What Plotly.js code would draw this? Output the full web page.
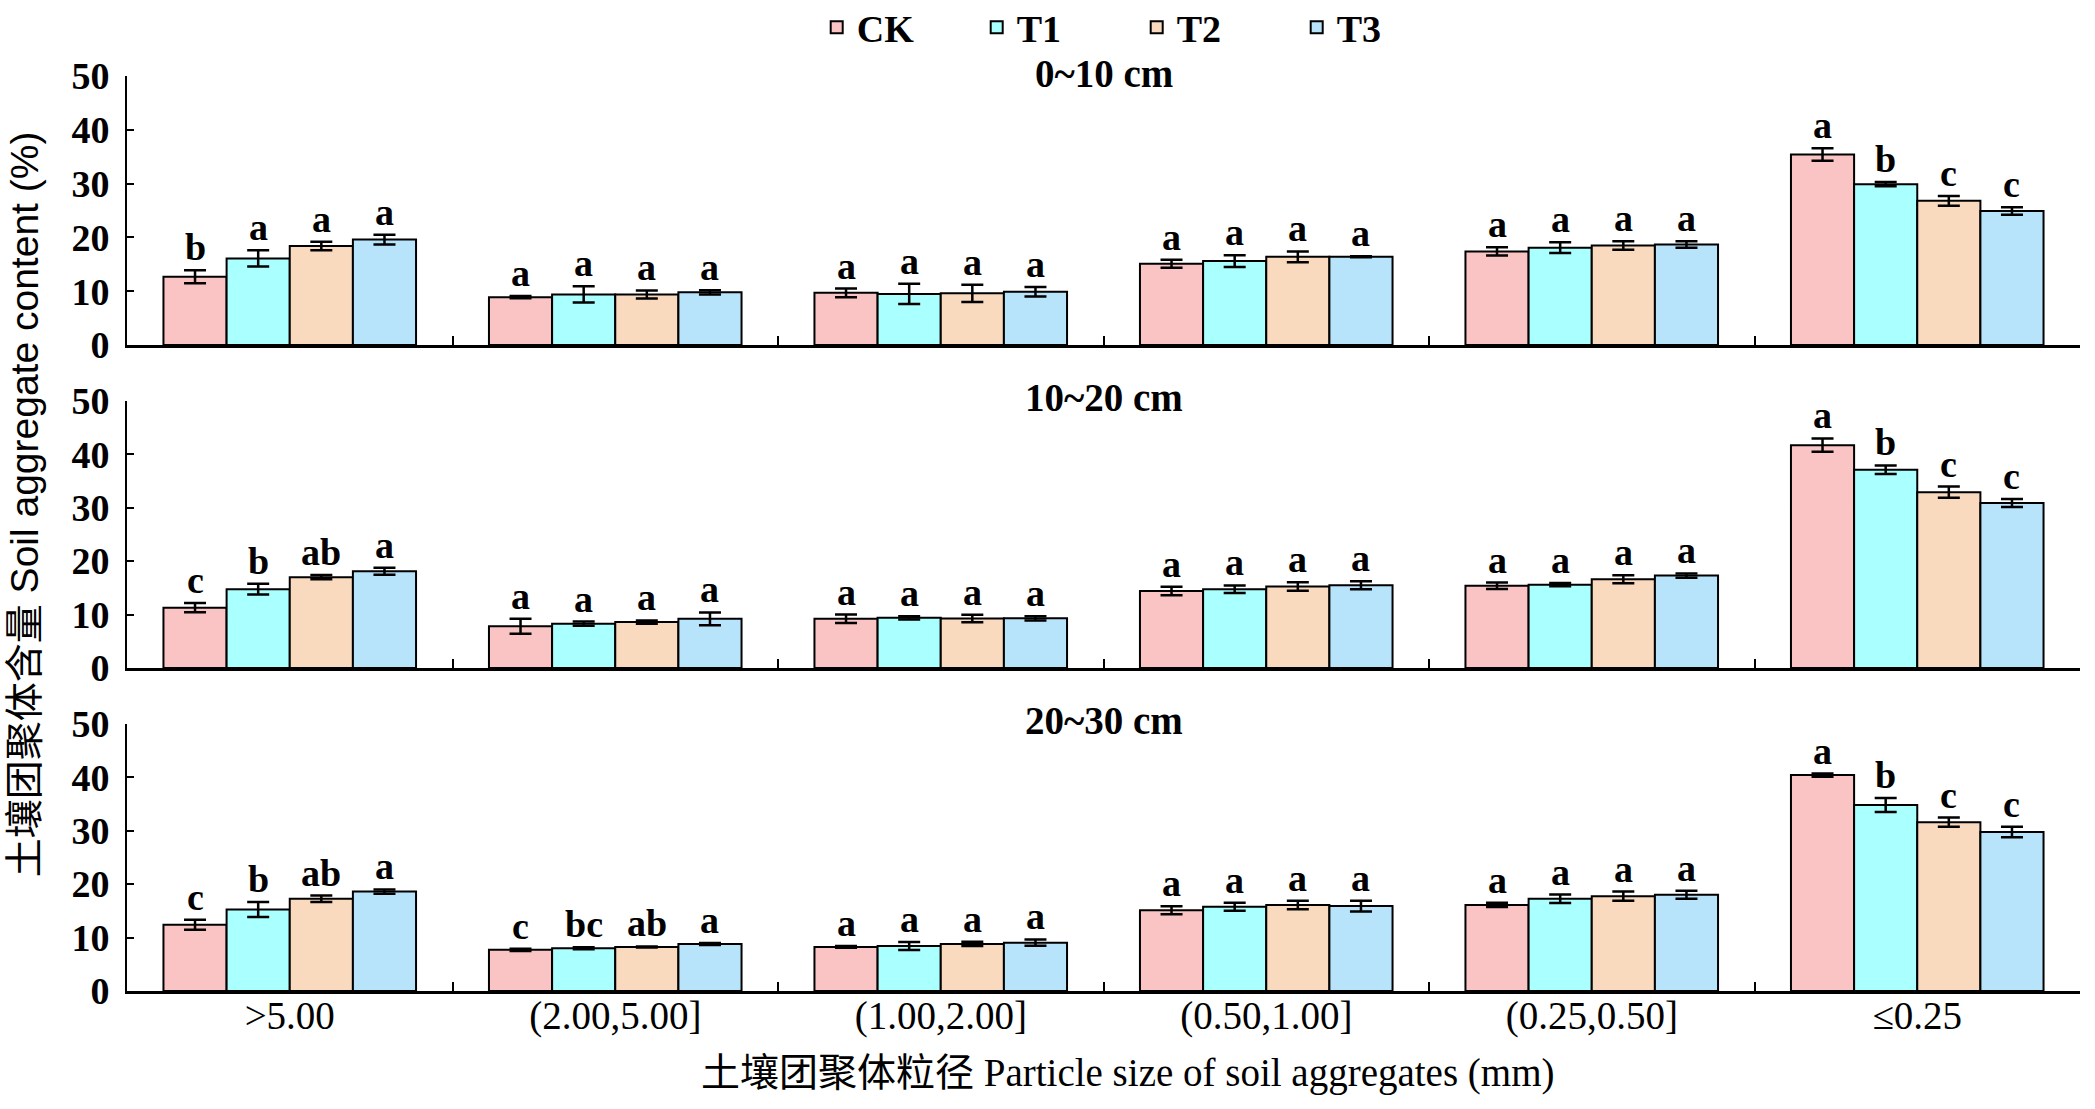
<!DOCTYPE html>
<html>
<head>
<meta charset="utf-8">
<script src="https://cdn.plot.ly/plotly-3.0.1.min.js"></script>
<style>html,body{margin:0;padding:0;background:#fff;}#chart{width:2095px;height:1109px;}</style>
</head>
<body>
<div id="chart"></div>
<script>
// ---------------- DATA ----------------
const categories = ['>5.00', '(2.00,5.00]', '(1.00,2.00]', '(0.50,1.00]', '(0.25,0.50]', '≤0.25'];
const seriesNames = ['CK', 'T1', 'T2', 'T3'];
const depthLabels = ['0~10 cm', '10~20 cm', '20~30 cm'];

// 0~10 cm
const d1_CK = [12.7, 8.9, 9.7, 15.1, 17.4, 35.4];
const d1_T1 = [16.1, 9.4, 9.5, 15.6, 18.1, 29.9];
const d1_T2 = [18.4, 9.4, 9.6, 16.4, 18.5, 26.8];
const d1_T3 = [19.6, 9.8, 9.9, 16.4, 18.7, 24.9];
const e1_CK = [1.2, 0.2, 0.8, 0.75, 0.75, 1.15];
const e1_T1 = [1.5, 1.5, 1.9, 1.1, 1.0, 0.4];
const e1_T2 = [0.8, 0.75, 1.6, 1.0, 0.8, 0.9];
const e1_T3 = [0.9, 0.4, 0.9, 0.1, 0.6, 0.7];
const l1_CK = ['b', 'a', 'a', 'a', 'a', 'a'];
const l1_T1 = ['a', 'a', 'a', 'a', 'a', 'b'];
const l1_T2 = ['a', 'a', 'a', 'a', 'a', 'c'];
const l1_T3 = ['a', 'a', 'a', 'a', 'a', 'c'];

// 10~20 cm
const d2_CK = [11.3, 7.8, 9.2, 14.4, 15.4, 41.7];
const d2_T1 = [14.75, 8.3, 9.4, 14.75, 15.6, 37.1];
const d2_T2 = [17.0, 8.6, 9.25, 15.25, 16.6, 32.9];
const d2_T3 = [18.1, 9.2, 9.3, 15.5, 17.3, 30.9];
const e2_CK = [0.85, 1.4, 0.8, 0.8, 0.6, 1.25];
const e2_T1 = [1.0, 0.4, 0.3, 0.7, 0.3, 0.8];
const e2_T2 = [0.4, 0.3, 0.7, 0.8, 0.75, 1.05];
const e2_T3 = [0.65, 1.2, 0.4, 0.75, 0.4, 0.75];
const l2_CK = ['c', 'a', 'a', 'a', 'a', 'a'];
const l2_T1 = ['b', 'a', 'a', 'a', 'a', 'b'];
const l2_T2 = ['ab', 'a', 'a', 'a', 'a', 'c'];
const l2_T3 = ['a', 'a', 'a', 'a', 'a', 'c'];

// 20~30 cm
const d3_CK = [12.4, 7.7, 8.25, 15.1, 16.1, 40.4];
const d3_T1 = [15.25, 8.0, 8.4, 15.75, 17.25, 34.8];
const d3_T2 = [17.25, 8.25, 8.8, 16.1, 17.75, 31.6];
const d3_T3 = [18.6, 8.8, 9.05, 15.9, 18.0, 29.75];
const e3_CK = [0.95, 0.2, 0.15, 0.75, 0.4, 0.3];
const e3_T1 = [1.4, 0.2, 0.75, 0.75, 0.8, 1.3];
const e3_T2 = [0.6, 0.1, 0.4, 0.8, 0.85, 0.85];
const e3_T3 = [0.4, 0.2, 0.6, 1.0, 0.75, 1.0];
const l3_CK = ['c', 'c', 'a', 'a', 'a', 'a'];
const l3_T1 = ['b', 'bc', 'a', 'a', 'a', 'b'];
const l3_T2 = ['ab', 'ab', 'a', 'a', 'a', 'c'];
const l3_T3 = ['a', 'a', 'a', 'a', 'a', 'c'];

const yTicks = [0, 10, 20, 30, 40, 50];
const xTitle = '土壤团聚体粒径 Particle size of soil aggregates (mm)';
const yTitle = '土壤团聚体含量 Soil aggregate content (%)';

// ---------------- BUILD ----------------
const panels = [
  {vals: [d1_CK, d1_T1, d1_T2, d1_T3], errs: [e1_CK, e1_T1, e1_T2, e1_T3], lets: [l1_CK, l1_T1, l1_T2, l1_T3]},
  {vals: [d2_CK, d2_T1, d2_T2, d2_T3], errs: [e2_CK, e2_T1, e2_T2, e2_T3], lets: [l2_CK, l2_T1, l2_T2, l2_T3]},
  {vals: [d3_CK, d3_T1, d3_T2, d3_T3], errs: [e3_CK, e3_T1, e3_T2, e3_T3], lets: [l3_CK, l3_T1, l3_T2, l3_T3]}
];
const colors = ['#FBC4C4', '#AAFFFF', '#F9DABE', '#B7E3FB'];
const SERIF = '"Liberation Serif", "Times New Roman", "Noto Sans CJK SC", serif';
const SANS = '"Liberation Sans", Arial, "Noto Sans CJK SC", sans-serif';
const BARGAP = 0.224;

const traces = [];
const annotations = [];
panels.forEach((p, pi) => {
  const xa = pi === 0 ? 'x' : 'x' + (pi + 1);
  const ya = pi === 0 ? 'y' : 'y' + (pi + 1);
  p.vals.forEach((v, si) => {
    traces.push({
      type: 'bar', x: categories, y: v, xaxis: xa, yaxis: ya,
      name: seriesNames[si], legendgroup: seriesNames[si], showlegend: pi === 0,
      marker: {color: colors[si], line: {color: '#000', width: 2}},
      error_y: {type: 'data', array: p.errs[si], visible: true, color: '#000', thickness: 2.5, width: 11},
      hoverinfo: 'skip'
    });
    const w = (1 - BARGAP) / p.vals.length;
    v.forEach((val, ci) => {
      annotations.push({
        xref: xa, yref: ya,
        x: ci + (si - (p.vals.length - 1) / 2) * w,
        y: val + p.errs[si][ci],
        text: p.lets[si][ci], showarrow: false,
        yanchor: 'bottom', xanchor: 'center', yshift: 0,
        font: {family: SERIF, size: 38, weight: 'bold', color: '#000'}
      });
    });
  });
  annotations.push({
    xref: 'paper', yref: ya + ' domain', x: 0.5, y: 1, yanchor: 'middle', yshift: 3,
    text: depthLabels[pi], showarrow: false,
    font: {family: SERIF, size: 39, weight: 'bold', color: '#000'}
  });
});
// axis titles
annotations.push({
  xref: 'paper', yref: 'paper', x: 0.5, y: 0, xanchor: 'center', yanchor: 'middle',
  xshift: 24, yshift: -82, text: xTitle, showarrow: false,
  font: {family: SERIF, size: 39, color: '#000'}
});
annotations.push({
  xref: 'paper', yref: 'paper', x: 0, y: 0.532, xanchor: 'center', yanchor: 'middle',
  xshift: -103, textangle: -90, text: yTitle, showarrow: false,
  font: {family: SANS, size: 39, color: '#000'}
});

const domains = [[0.706, 1], [0.353, 0.645], [0, 0.292]];
const layout = {
  width: 2095, height: 1109,
  margin: {l: 127, r: 15, t: 76, b: 118, autoexpand: false},
  paper_bgcolor: '#fff', plot_bgcolor: 'rgba(0,0,0,0)',
  barmode: 'group', bargap: BARGAP, bargroupgap: 0,
  showlegend: true,
  legend: {orientation: 'h', x: 0.517, xanchor: 'center', y: 1.053, yanchor: 'middle',
           font: {family: SERIF, size: 38, weight: 'bold', color: '#000'},
           entrywidth: 115, entrywidthmode: 'pixels', itemclick: false},
  annotations: annotations
};
for (let i = 0; i < 3; i++) {
  const sfx = i === 0 ? '' : String(i + 1);
  layout['xaxis' + sfx] = {
    type: 'category', categoryorder: 'array', categoryarray: categories,
    range: [-0.5, 5.5], anchor: 'y' + sfx, domain: [0, 1],
    showline: true, linecolor: '#000', linewidth: 3,
    ticks: 'inside', tickson: 'boundaries', ticklen: 9, tickwidth: 2, tickcolor: '#000',
    showgrid: false, zeroline: false, fixedrange: true,
    showticklabels: i === 2,
    tickfont: {family: SERIF, size: 39, color: '#000'},
    ticklabelstandoff: -12,
    title: {text: ''}
  };
  layout['yaxis' + sfx] = {
    domain: domains[i], anchor: 'x' + sfx, range: [0, 50],
    tickvals: yTicks, ticktext: yTicks.map(String),
    showline: true, linecolor: '#000', linewidth: 2,
    ticks: 'inside', ticklen: 7, tickwidth: 2, tickcolor: '#000',
    showgrid: false, zeroline: false, fixedrange: true,
    tickfont: {family: SERIF, size: 38, weight: 'bold', color: '#000'},
    ticklabelstandoff: 8,
    title: {text: ''}
  };
}

Plotly.newPlot('chart', traces, layout, {staticPlot: true, displayModeBar: false});
</script>
</body>
</html>
